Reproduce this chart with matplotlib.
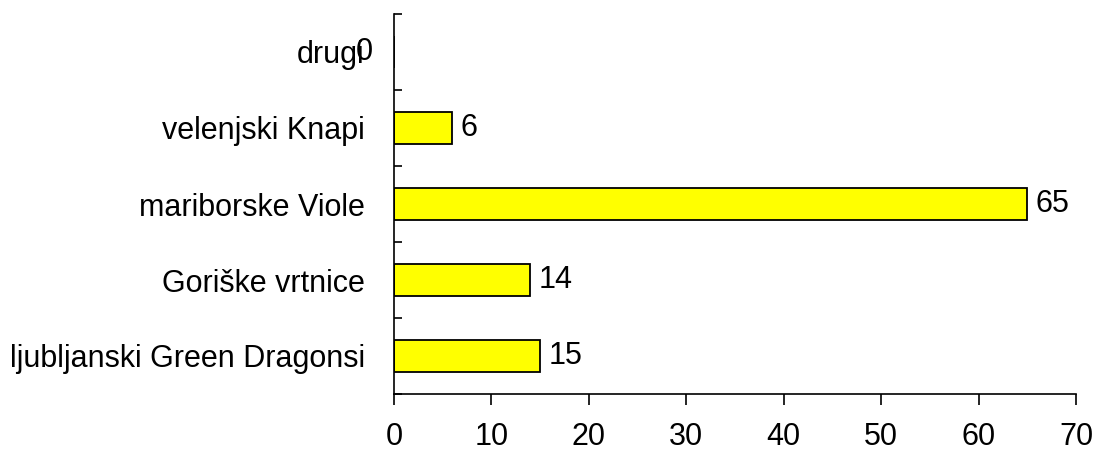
import matplotlib
matplotlib.use("Agg")
import matplotlib.pyplot as plt

categories = ["ljubljanski Green Dragonsi", "Goriške vrtnice", "mariborske Viole",
              "velenjski Knapi", "drugi"]
values = [15, 14, 65, 6, 0]
xticks = [0, 10, 20, 30, 40, 50, 60, 70]

plt.rcParams['font.family'] = ['Liberation Sans', 'DejaVu Sans']

fig = plt.figure(figsize=(10.95, 4.5), dpi=100)
ax = fig.add_axes([394/1095, 1-394/450, (1076-394)/1095, (394-14)/450])

pos = list(range(len(categories)))
ax.barh(pos, values, height=0.43, color="#FFFF00", edgecolor="black", linewidth=1.3)

ax.set_xlim(0, 70)
ax.set_ylim(-0.5, len(categories) - 0.5)
ax.set_xticks(xticks)
ax.set_xticklabels([str(t) for t in xticks], fontsize=22)
ax.set_yticks(pos)
ax.set_yticklabels(categories, fontsize=22)
ax.tick_params(axis='y', length=0, pad=21)
ax.set_yticks([p - 0.5 for p in pos] + [len(categories) - 0.5], minor=True)
ax.tick_params(axis='y', which='minor', direction='in', length=6, width=1.2)
ax.tick_params(axis='x', direction='out', length=8, width=1.2, pad=12)

for s in ['top', 'right']:
    ax.spines[s].set_visible(False)
for s in ['left', 'bottom']:
    ax.spines[s].set_linewidth(1.2)

for p, v in zip(pos, values):
    off = 8 if v > 0 else -38
    ax.annotate(str(v), (v, p), xytext=(off * 0.72, 0), textcoords='offset points',
                va='center', ha='left', fontsize=22)

fig.savefig("out.png", dpi=100)
